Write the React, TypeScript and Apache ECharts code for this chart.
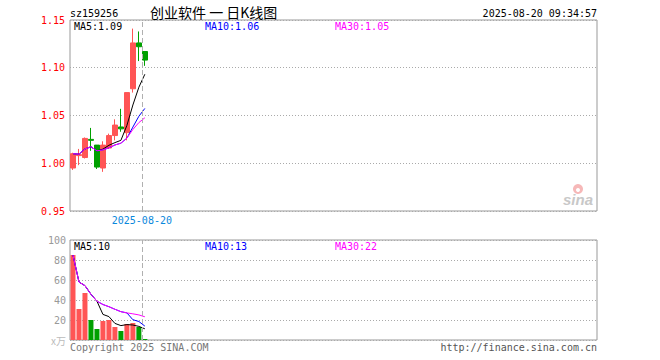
import React, { useEffect, useRef } from 'react';
import * as echarts from 'echarts';

const code = 'sz159256';
const titleText = '创业软件 一 日K线图';
const stamp = '2025-08-20 09:34:57';
const dates = [
  '2025-08-04', '2025-08-05', '2025-08-06', '2025-08-07', '2025-08-08', '2025-08-11', '2025-08-12',
  '2025-08-13', '2025-08-14', '2025-08-15', '2025-08-18', '2025-08-19', '2025-08-20',
];
const opens = [0.995, 1.008, 1.006, 1.025, 1.019, 0.995, 1.016, 1.029, 1.038, 1.032, 1.078, 1.126, 1.117];
const closes = [1.010, 1.009, 1.026, 1.024, 0.996, 1.019, 1.029, 1.040, 1.036, 1.074, 1.126, 1.122, 1.108];
const lows = [0.993, 0.998, 1.005, 1.013, 0.994, 0.991, 1.015, 1.024, 1.033, 1.024, 1.074, 1.107, 1.102];
const highs = [1.011, 1.015, 1.027, 1.037, 1.019, 1.023, 1.031, 1.046, 1.057, 1.074, 1.141, 1.138, 1.117];
const volumes = [85, 31, 47, 20, 11, 19, 20, 13, 9, 16, 17, 13, 1];
const markDateIndex = 12;
const totalSlots = 88;
const priceMaLabels = ['MA5:1.09', 'MA10:1.06', 'MA30:1.05'];
const volMaLabels = ['MA5:10', 'MA10:13', 'MA30:22'];
const maPeriods = [5, 10, 30];
const copyrightText = 'Copyright 2025 SINA.COM';
const urlText = 'http://finance.sina.com.cn';

const RED = '#ff5555';
const GREEN = '#00a000';
const MA_COLORS = ['#000000', '#0000ff', '#ff00ff'];
const MONO = '"DejaVu Sans Mono", "Liberation Mono", monospace';
const CJK = '"Noto Sans CJK SC", sans-serif';

function movingAvg(arr: number[], n: number): number[] {
  return arr.map((_, i) => {
    const s = arr.slice(Math.max(0, i - n + 1), i + 1);
    return s.reduce((a, b) => a + b, 0) / s.length;
  });
}

export default function App() {
  const ref = useRef<HTMLDivElement>(null);
  useEffect(() => {
    if (!ref.current) return;
    const chart = echarts.init(ref.current, undefined, { renderer: 'svg' });
    const cats: string[] = [...dates];
    for (let i = dates.length; i < totalSlots; i++) cats.push('s' + i);
    const up = dates.map((_, i) => closes[i] >= opens[i]);
    const kData = dates.map((_, i) => [opens[i], closes[i], lows[i], highs[i]]);
    const gridL = 70, gridW = 527;
    const priceMa = maPeriods.map((p) => movingAvg(closes, p));
    const volMa = maPeriods.map((p) => movingAvg(volumes, p));

    const catAxis = (gi: number) => ({
      type: 'category', gridIndex: gi, data: cats, boundaryGap: true,
      axisLine: { show: false }, axisTick: { show: false }, axisLabel: { show: false }, splitLine: { show: false },
    });
    const valAxis = (gi: number) => ({ type: 'value', gridIndex: gi, min: 0, max: totalSlots, show: false });
    const dash = { color: '#b0b0b0', width: 1, type: [5, 3] };

    const series: any[] = [
      {
        type: 'candlestick', xAxisIndex: 0, yAxisIndex: 0, data: kData, barWidth: 5,
        itemStyle: { color: RED, color0: GREEN, borderColor: RED, borderColor0: GREEN, borderWidth: 1 },
      },
    ];
    priceMa.forEach((d, k) => series.push({
      type: 'line', xAxisIndex: 0, yAxisIndex: 0, data: d, showSymbol: false, symbol: 'none',
      lineStyle: { color: MA_COLORS[k], width: 1 }, z: 3,
    }));
    series.push({
      type: 'bar', xAxisIndex: 1, yAxisIndex: 1, barWidth: 5,
      data: volumes.map((v, i) => ({ value: v, itemStyle: { color: up[i] ? RED : GREEN } })),
    });
    volMa.forEach((d, k) => series.push({
      type: 'line', xAxisIndex: 1, yAxisIndex: 1, data: d, showSymbol: false, symbol: 'none',
      lineStyle: { color: MA_COLORS[k], width: 1 }, z: 3,
    }));
    series.push({
      type: 'line', xAxisIndex: 2, yAxisIndex: 0, data: [[markDateIndex, 1.0]], showSymbol: false, symbol: 'none',
      lineStyle: { opacity: 0 },
      markLine: {
        silent: true, symbol: ['none', 'none'], lineStyle: dash,
        label: {
          show: true, position: 'start', distance: 4, formatter: dates[markDateIndex],
          color: '#0a88dc', fontSize: 10, fontFamily: MONO,
        },
        data: [{ xAxis: markDateIndex }],
      },
    });
    series.push({
      type: 'line', xAxisIndex: 3, yAxisIndex: 1, data: [[markDateIndex, 50]], showSymbol: false, symbol: 'none',
      lineStyle: { opacity: 0 },
      markLine: {
        silent: true, symbol: ['none', 'none'], lineStyle: dash, label: { show: false },
        data: [{ xAxis: markDateIndex }],
      },
    });

    const txt = (text: string, x: number, y: number, fill: string, extra: any = {}) => ({
      type: 'text', x, y, silent: true,
      style: { text, fill, fontSize: 10, fontFamily: MONO, align: 'left', verticalAlign: 'middle', ...extra },
    });
    const legendX = [74, 205, 335];

    chart.setOption({
      animation: false,
      backgroundColor: '#ffffff',
      grid: [
        { left: gridL, top: 20, width: gridW, height: 191, show: true, borderColor: '#999999', borderWidth: 1 },
        { left: gridL, top: 240, width: gridW, height: 100, show: true, borderColor: '#999999', borderWidth: 1 },
      ],
      xAxis: [catAxis(0), catAxis(1), valAxis(0), valAxis(1)],
      yAxis: [
        {
          type: 'value', gridIndex: 0, min: 0.95, max: 1.15, interval: 0.05,
          axisLine: { show: false }, axisTick: { show: false },
          axisLabel: { color: '#ff0000', fontSize: 10, fontFamily: MONO, margin: 5, formatter: (v: number) => v.toFixed(2) },
          splitLine: { show: true, lineStyle: { color: '#aaaaaa', width: 1, type: [1, 2] } },
        },
        {
          type: 'value', gridIndex: 1, min: 0, max: 100, interval: 20,
          axisLine: { show: false }, axisTick: { show: false },
          axisLabel: {
            color: '#999999', fontSize: 10, fontFamily: MONO, margin: 4,
            formatter: (v: number) => (v === 0 ? '{u|x万}' : String(v)),
            rich: { u: { color: '#bbbbbb', fontSize: 10, fontFamily: CJK } },
          },
          splitLine: { show: true, lineStyle: { color: '#aaaaaa', width: 1, type: [1, 2] } },
        },
      ],
      series,
      graphic: [
        txt(code, 70, 13, '#000000'),
        { type: 'text', x: 150, y: 12, silent: true, style: { text: titleText, fill: '#000000', fontSize: 14, fontFamily: CJK, align: 'left', verticalAlign: 'middle' } },
        txt(stamp, 597, 13, '#000000', { align: 'right' }),
        ...priceMaLabels.map((t, k) => txt(t, legendX[k], 26, MA_COLORS[k])),
        ...volMaLabels.map((t, k) => txt(t, legendX[k], 246, MA_COLORS[k])),
        txt(copyrightText, 70, 347, '#777777'),
        txt(urlText, 597, 347, '#555555', { align: 'right' }),
        { type: 'circle', silent: true, shape: { cx: 578, cy: 189, r: 5 }, style: { fill: '#f6b8b8' } },
        { type: 'circle', silent: true, shape: { cx: 578, cy: 190, r: 2 }, style: { fill: '#ffffff' } },
        { type: 'text', x: 563, y: 199, silent: true, style: { text: 'sina', fill: '#c8c8c8', fontSize: 15, fontWeight: 'bold', fontStyle: 'italic', fontFamily: '"Liberation Sans", sans-serif', align: 'left', verticalAlign: 'middle' } },
      ],
    });
    return () => chart.dispose();
  }, []);
  return <div ref={ref} style={{ position: 'fixed', left: 0, top: 0, width: 660, height: 360 }} />;
}
